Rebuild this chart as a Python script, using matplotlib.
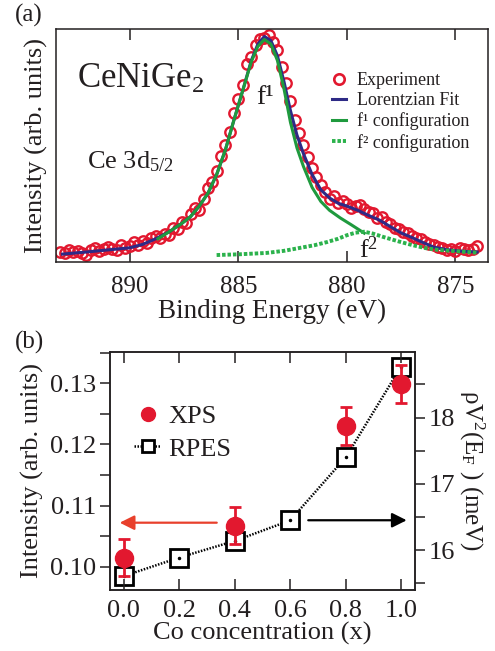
import matplotlib
matplotlib.use('Agg')
import matplotlib.pyplot as plt
from matplotlib.lines import Line2D
from matplotlib.ticker import MultipleLocator, FormatStrFormatter

plt.rcParams['font.family'] = ['Liberation Serif', 'DejaVu Serif']
plt.rcParams['mathtext.fontset'] = 'custom'
plt.rcParams['mathtext.rm'] = 'Liberation Serif'
plt.rcParams['mathtext.it'] = 'Liberation Serif:italic'

TXT = '#231f20'
RED = '#e2182f'
NAVY = '#2e2a86'
GREEN = '#1f9a3e'
GREEN2 = '#2bb24c'

# ---- painel (a): Ce 3d5/2 XPS ----
exp_be = [893.2, 893.0, 892.8, 892.6, 892.4, 892.2, 892.0, 891.8, 891.6, 891.4,
          891.2, 891.0, 890.8, 890.6, 890.4, 890.2, 890.0, 889.8, 889.6, 889.4,
          889.2, 889.0, 888.8, 888.6, 888.4, 888.2, 888.0, 887.8, 887.6, 887.4,
          887.2, 887.0, 886.8, 886.6, 886.4, 886.2, 886.0, 885.8, 885.6, 885.4,
          885.2, 885.0, 884.8, 884.6, 884.4, 884.2, 884.0, 883.8, 883.6, 883.4,
          883.2, 883.0, 882.8, 882.6, 882.4, 882.2, 882.0, 881.8, 881.6, 881.4,
          881.2, 881.0, 880.8, 880.6, 880.4, 880.2, 880.0, 879.8, 879.6, 879.4,
          879.2, 879.0, 878.8, 878.6, 878.4, 878.2, 878.0, 877.8, 877.6, 877.4,
          877.2, 877.0, 876.8, 876.6, 876.4, 876.2, 876.0, 875.8, 875.6, 875.4,
          875.2, 875.0, 874.8, 874.6, 874.4, 874.2, 874.0]
exp_int = [0.045, 0.040, 0.050, 0.042, 0.047, 0.040, 0.030, 0.052, 0.062, 0.048,
           0.058, 0.066, 0.055, 0.050, 0.072, 0.062, 0.068, 0.085, 0.074, 0.092,
           0.083, 0.105, 0.112, 0.104, 0.122, 0.118, 0.148, 0.142, 0.172, 0.168,
           0.208, 0.232, 0.222, 0.270, 0.318, 0.345, 0.392, 0.455, 0.500, 0.560,
           0.640, 0.700, 0.760, 0.850, 0.880, 0.930, 0.955, 0.960, 0.975, 0.945,
           0.910, 0.835, 0.770, 0.690, 0.610, 0.555, 0.500, 0.450, 0.405, 0.365,
           0.330, 0.300, 0.270, 0.285, 0.255, 0.262, 0.248, 0.230, 0.240, 0.245,
           0.228, 0.215, 0.212, 0.190, 0.192, 0.172, 0.165, 0.148, 0.142, 0.130,
           0.125, 0.112, 0.104, 0.098, 0.088, 0.076, 0.072, 0.065, 0.062, 0.050,
           0.056, 0.048, 0.062, 0.055, 0.050, 0.058, 0.068]

fit_be = [893.1, 892.0, 891.0, 890.0, 889.4, 888.8, 888.2, 887.6, 887.2, 886.8,
          886.4, 886.0, 885.6, 885.2, 884.8, 884.4, 884.1, 883.8, 883.5, 883.2,
          882.9, 882.6, 882.3, 882.0, 881.6, 881.2, 880.8, 880.4, 880.0, 879.5,
          879.0, 878.5, 878.0, 877.5, 877.0, 876.5, 876.0, 875.4, 874.8, 874.0]
fit_int = [0.034, 0.043, 0.052, 0.061, 0.076, 0.100, 0.129, 0.166, 0.195, 0.240,
           0.295, 0.375, 0.480, 0.610, 0.735, 0.865, 0.935, 0.968, 0.950, 0.885,
           0.775, 0.650, 0.545, 0.465, 0.375, 0.310, 0.275, 0.252, 0.240, 0.222,
           0.200, 0.180, 0.152, 0.125, 0.105, 0.084, 0.064, 0.053, 0.047, 0.043]

f1_be = [888.7, 888.2, 887.6, 887.2, 886.8, 886.4, 886.0, 885.6, 885.2, 884.8,
         884.4, 884.1, 883.8, 883.5, 883.2, 882.9, 882.6, 882.3, 882.0, 881.6,
         881.2, 880.8, 880.3, 879.8, 879.2]
f1_int = [0.100, 0.129, 0.166, 0.195, 0.240, 0.295, 0.375, 0.480, 0.610, 0.735,
          0.860, 0.925, 0.955, 0.935, 0.865, 0.745, 0.600, 0.490, 0.410, 0.320,
          0.260, 0.222, 0.189, 0.160, 0.124]

f2_be = [886.0, 885.0, 883.7, 882.9, 882.2, 881.5, 880.9, 880.4, 880.0, 879.6,
         879.2, 878.8, 878.3, 877.6, 877.0, 876.4, 875.8, 875.2, 874.0]
f2_int = [0.030, 0.033, 0.039, 0.048, 0.060, 0.072, 0.086, 0.100, 0.115, 0.126,
          0.130, 0.122, 0.107, 0.088, 0.073, 0.060, 0.052, 0.048, 0.040]

be_ticks = [890, 885, 880, 875]

# ---- painel (b): intensidade vs concentração de Co ----
co_x = [0.0, 0.2, 0.4, 0.6, 0.8, 1.0]
xps_x = [0.0, 0.4, 0.8, 1.0]
xps_int = [0.1015, 0.1067, 0.1230, 0.1298]
xps_err = [0.0030, 0.0030, 0.0031, 0.0031]
rpes_val = [15.61, 15.89, 16.14, 16.45, 17.40, 18.77]

fig = plt.figure(figsize=(4.95, 6.51), dpi=100)

ax1 = fig.add_axes([0.1131, 0.5975, 0.8727, 0.3580])
ax1.plot(exp_be, exp_int, 'o', ms=7.5, mfc='none', mec=RED, mew=1.7, zorder=2)
ax1.plot(fit_be, fit_int, '-', color=NAVY, lw=2.2, zorder=3)
ax1.plot(f1_be, f1_int, '-', color=GREEN, lw=2.2, zorder=4)
ax1.plot(f2_be, f2_int, color=GREEN2, lw=2.8, dashes=(0.9, 0.5), zorder=4)
ax1.set_xlim(893.4, 873.5)
ax1.set_ylim(0, 1)
ax1.set_xticks(be_ticks)
ax1.set_yticks([])
ax1.tick_params(axis='x', direction='in', top=True, length=8, width=1.1,
                labelsize=18, pad=10, colors=TXT)
ax1.set_xlabel('Binding Energy (eV)', fontsize=19.5, color=TXT, labelpad=1)
ax1.set_ylabel('Intensity (arb. units)', fontsize=19, color=TXT, labelpad=6)
for s in ax1.spines.values():
    s.set_linewidth(1.1)
    s.set_color(TXT)

ax1.text(892.45, 0.745, r'CeNiGe$_\mathrm{2}$', fontsize=25, color=TXT, va='baseline')
ax1.text(891.98, 0.403, r'Ce 3d$_\mathrm{5/2}$', fontsize=19, color=TXT, va='baseline')
ax1.text(884.2, 0.680, 'f¹', fontsize=20, color=TXT, va='baseline')
ax1.text(879.45, 0.017, r'f$^\mathrm{2}$', fontsize=19, color=TXT, va='baseline')

handles_a = [
    Line2D([], [], ls='none', marker='o', ms=7.5, mfc='none', mec=RED, mew=1.9),
    Line2D([], [], color=NAVY, lw=2.2),
    Line2D([], [], color=GREEN, lw=2.2),
    Line2D([], [], color=GREEN2, lw=2.8, dashes=(0.9, 0.5)),
]
labels_a = ['Experiment', 'Lorentzian Fit', 'f¹ configuration', 'f² configuration']
leg = ax1.legend(handles_a, labels_a, loc='upper left', bbox_to_anchor=(0.638, 0.815),
                 frameon=False, fontsize=13, handlelength=0.8, handletextpad=0.6,
                 labelspacing=0.18, borderpad=0, borderaxespad=0)
for t in leg.get_texts():
    t.set_color(TXT)

ax2 = fig.add_axes([0.2222, 0.0937, 0.6162, 0.3656])
ax3 = ax2.twinx()
ax2.set_zorder(ax3.get_zorder() + 1)
ax2.patch.set_visible(False)

ax3.plot(co_x, rpes_val, color='black', lw=1.8, ls=(0, (0.6, 0.6)), marker='s', ms=13,
         mfc='white', mec='black', mew=2.0)
ax3.plot(co_x, rpes_val, ls='none', marker='.', ms=3, color='black')
ax2.errorbar(xps_x, xps_int, yerr=xps_err, fmt='o', ms=13, color=RED, ecolor=RED,
             elinewidth=2, capsize=4, capthick=2)

ax2.set_xlim(-0.05, 1.05)
ax2.set_ylim(0.0962, 0.1351)
ax3.set_ylim(15.40, 18.99)
ax2.set_xticks(co_x)
ax2.xaxis.set_major_formatter(FormatStrFormatter('%.1f'))
ax2.set_yticks([0.10, 0.11, 0.12, 0.13])
ax2.yaxis.set_major_formatter(FormatStrFormatter('%.2f'))
ax2.yaxis.set_minor_locator(MultipleLocator(0.005))
ax3.set_yticks([16, 17, 18])
ax3.yaxis.set_minor_locator(MultipleLocator(0.5))

ax2.tick_params(axis='x', direction='in', top=True, length=8, width=1.1,
                labelsize=19, pad=7, colors=TXT)
ax2.tick_params(axis='y', which='both', direction='out', length=7, width=1.1,
                labelsize=19, pad=3, colors=TXT)
ax3.tick_params(axis='y', which='both', direction='out', length=7, width=1.1,
                labelsize=19, pad=3, colors=TXT)
for a in (ax2, ax3):
    for s in a.spines.values():
        s.set_linewidth(1.1)
        s.set_color(TXT)

ax2.set_xlabel('Co concentration (x)', fontsize=19, color=TXT, labelpad=0)
ax2.set_ylabel('Intensity (arb. units)', fontsize=19, color=TXT, labelpad=4)
ax3.set_ylabel('ρV$^\\mathrm{2}$(E$_\\mathrm{F}$ ) (meV)', fontsize=18, color=TXT,
               rotation=270, labelpad=22)

ax2.annotate('', xy=(-0.025, 0.1072), xytext=(0.345, 0.1072),
             arrowprops=dict(arrowstyle='-|>', color='#e8402c', lw=1.6, mutation_scale=22))
ax2.annotate('', xy=(1.03, 0.1076), xytext=(0.655, 0.1076),
             arrowprops=dict(arrowstyle='-|>', color='black', lw=1.6, mutation_scale=22))

handles_b = [
    Line2D([], [], ls='none', marker='o', ms=10, color=RED),
    Line2D([], [], color='black', lw=1.8, ls=(0, (0.6, 0.6)), marker='s', ms=9,
           mfc='white', mec='black', mew=2.0),
]
leg2 = ax2.legend(handles_b, ['XPS', 'RPES'], loc='upper left', bbox_to_anchor=(0.08, 0.78),
                  frameon=False, fontsize=19, handlelength=1.0, handletextpad=0.3,
                  labelspacing=0.35, borderpad=0, borderaxespad=0)
for t in leg2.get_texts():
    t.set_color(TXT)

fig.text(15 / 495, 1 - 15 / 651, '(a)', fontsize=18, color=TXT, va='center')
fig.text(15 / 495, 1 - 342 / 651, '(b)', fontsize=18, color=TXT, va='center')

fig.savefig('out.png', dpi=100)
